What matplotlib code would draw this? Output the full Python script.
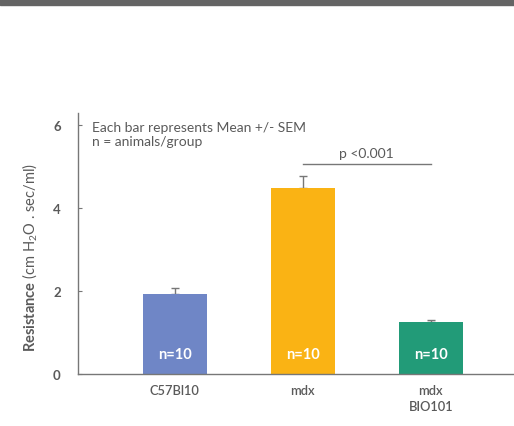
import numpy as np
import matplotlib
matplotlib.use('Agg')
import matplotlib.pyplot as plt
from matplotlib.patches import Rectangle

plt.rcParams['font.family'] = ['Lato', 'DejaVu Sans']
plt.rcParams['mathtext.fontset'] = 'custom'
plt.rcParams['mathtext.rm'] = 'Lato'
plt.rcParams['mathtext.bf'] = 'Lato:bold'

# Datos: resistencia media y error estandar por grupo
groups = ['C57Bl10', 'mdx', 'mdx\nBIO101']
means = [1.93, 4.49, 1.26]
sems = [0.15, 0.30, 0.04]
n_labels = ['n=10', 'n=10', 'n=10']
colors = ['#6F86C6', '#FAB314', '#229B78']
yticks = [0, 2, 4, 6]
p_text = 'p <0.001'
p_level = 5.06
p_pair = (1, 2)

gray = '#777777'
text_gray = '#5a5a5a'

fig = plt.figure(figsize=(5.14, 4.27), dpi=100)
ax = fig.add_axes([0.1508, 0.1218, 0.8492, 0.6112])

# Barra gris superior
fig.patches.append(Rectangle((0, 1 - 6 / 427), 1, 6 / 427, transform=fig.transFigure,
                             color='#646464', zorder=0))

x = np.arange(len(groups))
ax.bar(x, means, width=0.5, color=colors, zorder=2)
ax.errorbar(x, means, yerr=[np.zeros(len(sems)), sems], fmt='none',
            ecolor=gray, elinewidth=1, capsize=3, capthick=1, zorder=1)

for xi, lab in zip(x, n_labels):
    ax.text(xi, 0.48, lab, ha='center', va='center', color='white',
            fontsize=10.5, fontweight='bold')

# Linea de significancia
ax.plot(p_pair, [p_level, p_level], color=gray, lw=1)
ax.text(np.mean(p_pair), p_level + 0.12, p_text, ha='center', va='bottom',
        color=text_gray, fontsize=10)

ax.text(-0.65, 5.79, 'Each bar represents Mean +/- SEM\nn = animals/group',
        ha='left', va='center', color=text_gray, fontsize=10, linespacing=1.25)

ax.set_xlim(-0.76, 2.65)
ax.set_ylim(0, 6.3)
ax.set_xticks(x)
ax.set_xticklabels(groups, color=text_gray, fontsize=9.3, fontweight='semibold',
                   linespacing=1.4)
ax.set_yticks(yticks)
ax.set_yticklabels([str(t) for t in yticks], color=text_gray, fontsize=9.5,
                   fontweight='bold')
ax.tick_params(axis='x', length=0, pad=7)
ax.tick_params(axis='y', direction='in', length=3, color=gray, pad=12)

for side in ['top', 'right']:
    ax.spines[side].set_visible(False)
for side in ['left', 'bottom']:
    ax.spines[side].set_color(gray)
    ax.spines[side].set_linewidth(1)

ax.set_ylabel(r'$\mathbf{Resistance}$ (cm H$_2$O . sec/ml)', color=text_gray,
              fontsize=10.5)
ax.yaxis.set_label_coords(-0.085, 0.45)

fig.savefig('out.png', dpi=100)
